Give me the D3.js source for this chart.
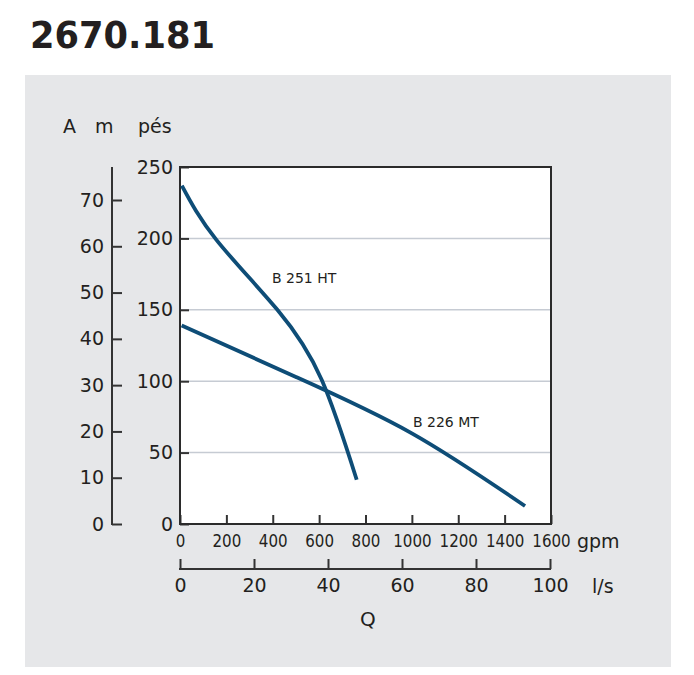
<!DOCTYPE html>
<html>
<head>
<meta charset="utf-8">
<script src="https://cdn.jsdelivr.net/npm/d3@7"></script>
<style>
  body { margin: 0; background: #fff; }
  svg text { font-family: "DejaVu Sans", sans-serif; fill: #231f20; }
</style>
</head>
<body>
<svg id="chart"></svg>
<script>
// curve data: [gpm, feet]
const b251 = [[8, 237], [157, 199], [420, 150], [611, 101], [762, 31]];
const b226 = [[7, 139], [500, 103], [1000, 63.5], [1488, 12.6]];

const gpmTicks = [0, 200, 400, 600, 800, 1000, 1200, 1400, 1600];
const lsTicks = [0, 20, 40, 60, 80, 100];
const ftTicks = [0, 50, 100, 150, 200, 250];
const mTicks = [0, 10, 20, 30, 40, 50, 60, 70];

const width = 694, height = 675;
const svg = d3.select("#chart").attr("width", width).attr("height", height);

// title
svg.append("text")
    .attr("x", 30).attr("y", 48)
    .attr("font-size", 37).attr("font-weight", "bold")
    .attr("textLength", 185).attr("lengthAdjust", "spacingAndGlyphs")
    .text("2670.181");

// grey panel
svg.append("rect")
    .attr("x", 25).attr("y", 75)
    .attr("width", 646).attr("height", 592)
    .attr("fill", "#e6e7e9");

// scales
let x = d3.scaleLinear().domain([0, 1600]).range([180, 551]);
let ls = d3.scaleLinear().domain([0, 100]).range([180, 550]);
let y = d3.scaleLinear().domain([0, 250]).range([524, 167]);
let m = d3.scaleLinear().domain([0, 70 * 357 / 324]).range([524, 167]);

// plot area
svg.append("rect")
    .attr("x", x(0)).attr("y", y(250))
    .attr("width", x(1600) - x(0)).attr("height", y(0) - y(250))
    .attr("fill", "#fff");

// grid lines
svg.selectAll(".grid")
  .data(ftTicks.slice(1, -1))
  .enter().append("line")
    .attr("x1", x(0)).attr("x2", x(1600))
    .attr("y1", d => y(d)).attr("y2", d => y(d))
    .attr("stroke", "#c6cbd3").attr("stroke-width", 1.5);

function styleAxis(g, size) {
  g.select(".domain").remove();
  g.selectAll(".tick line").attr("stroke", "#333").attr("stroke-width", 2);
  g.selectAll(".tick text")
      .attr("fill", "#231f20")
      .attr("font-family", "DejaVu Sans")
      .attr("font-size", size);
}

// feet axis (inside ticks)
svg.append("g")
    .attr("transform", `translate(${x(0)},0)`)
    .call(d3.axisLeft(y).tickValues(ftTicks).tickSizeInner(-9).tickSizeOuter(0).tickPadding(7))
    .call(g => styleAxis(g, 19));

// gpm axis
svg.append("g")
    .attr("transform", `translate(0,${y(0)})`)
    .call(d3.axisBottom(x).tickValues(gpmTicks).tickFormat(d3.format("d"))
            .tickSizeInner(-9).tickSizeOuter(0).tickPadding(10))
    .call(g => styleAxis(g, 18))
    .call(g => g.selectAll(".tick text")
        .attr("font-family", "DejaVu Sans Condensed")
        .attr("textLength", d => String(d).length * 9.6)
        .attr("lengthAdjust", "spacingAndGlyphs"));

// frame
svg.append("rect")
    .attr("x", x(0)).attr("y", y(250))
    .attr("width", x(1600) - x(0)).attr("height", y(0) - y(250))
    .attr("fill", "none").attr("stroke", "#2b2b2b").attr("stroke-width", 2);

// metres axis
svg.append("g")
    .attr("transform", "translate(112,0)")
    .call(d3.axisLeft(m).tickValues(mTicks).tickSizeInner(-10).tickSizeOuter(0).tickPadding(8))
    .call(g => styleAxis(g, 19))
    .call(g => g.append("line")
        .attr("y1", m.range()[0] + 1).attr("y2", m.range()[1])
        .attr("stroke", "#333").attr("stroke-width", 2));

// l/s axis
svg.append("g")
    .attr("transform", "translate(0,569)")
    .call(d3.axisBottom(ls).tickValues(lsTicks).tickSizeInner(-10).tickSizeOuter(0).tickPadding(10))
    .call(g => styleAxis(g, 19))
    .call(g => g.append("line")
        .attr("x1", ls(0) - 1).attr("x2", ls(100) + 1)
        .attr("stroke", "#333").attr("stroke-width", 2));

// curves
let line = d3.line()
    .x(d => x(d[0]))
    .y(d => y(d[1]))
    .curve(d3.curveNatural);

[b251, b226].forEach(c => {
  svg.append("path")
      .datum(c)
      .attr("d", line)
      .attr("fill", "none")
      .attr("stroke", "#0e4d77")
      .attr("stroke-width", 3.8);
});

// curve labels
svg.append("text").attr("x", 272).attr("y", 283).attr("font-size", 14).text("B 251 HT");
svg.append("text").attr("x", 413).attr("y", 427).attr("font-size", 14).text("B 226 MT");

// unit labels
svg.append("text").attr("x", 63).attr("y", 133).attr("font-size", 19).text("A");
svg.append("text").attr("x", 95).attr("y", 133).attr("font-size", 19).text("m");
svg.append("text").attr("x", 138).attr("y", 133).attr("font-size", 19).text("pés");
svg.append("text").attr("x", 577).attr("y", 548).attr("font-size", 19)
    .attr("font-family", "DejaVu Sans Condensed").text("gpm");
svg.append("text").attr("x", 592).attr("y", 593).attr("font-size", 19).text("l/s");
svg.append("text").attr("x", 360).attr("y", 626).attr("font-size", 20).text("Q");
</script>
</body>
</html>
